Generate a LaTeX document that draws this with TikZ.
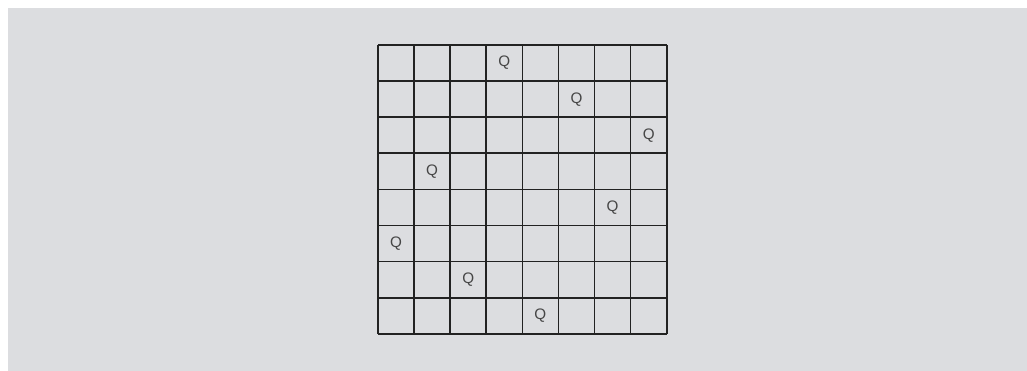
\documentclass[tikz,border=0pt]{standalone}
\usepackage{fontspec}
\setsansfont{Liberation Sans}
\usetikzlibrary{positioning}
\definecolor{boardbg}{RGB}{220,221,224}
\definecolor{gridline}{RGB}{34,34,34}
\definecolor{queengray}{RGB}{70,70,70}

\begin{document}
\begin{tikzpicture}[
    board/.style={draw=gridline, line width=1.3pt},
    queen/.style={font=\sffamily\fontsize{12}{14}\selectfont, text=queengray, inner sep=0pt},
]

% Page and background
\useasboundingbox (-10.47, 1.247) rectangle (17.98, -9.03);
\fill[white] (-10.47, 1.247) rectangle (17.98, -9.03);
\fill[boardbg] (-10.25, 1.025) rectangle (17.98, -9.03);

% Board
\draw[board] (0, 0) grid (8, -8);

% Queens
\node[queen] (q1) at (3.5, -0.5) {Q};
\node[queen] (q2) at (5.5, -1.5) {Q};
\node[queen] (q3) at (7.5, -2.5) {Q};
\node[queen] (q4) at (1.5, -3.5) {Q};
\node[queen] (q5) at (6.5, -4.5) {Q};
\node[queen] (q6) at (0.5, -5.5) {Q};
\node[queen] (q7) at (2.5, -6.5) {Q};
\node[queen] (q8) at (4.5, -7.5) {Q};

\end{tikzpicture}
\end{document}
